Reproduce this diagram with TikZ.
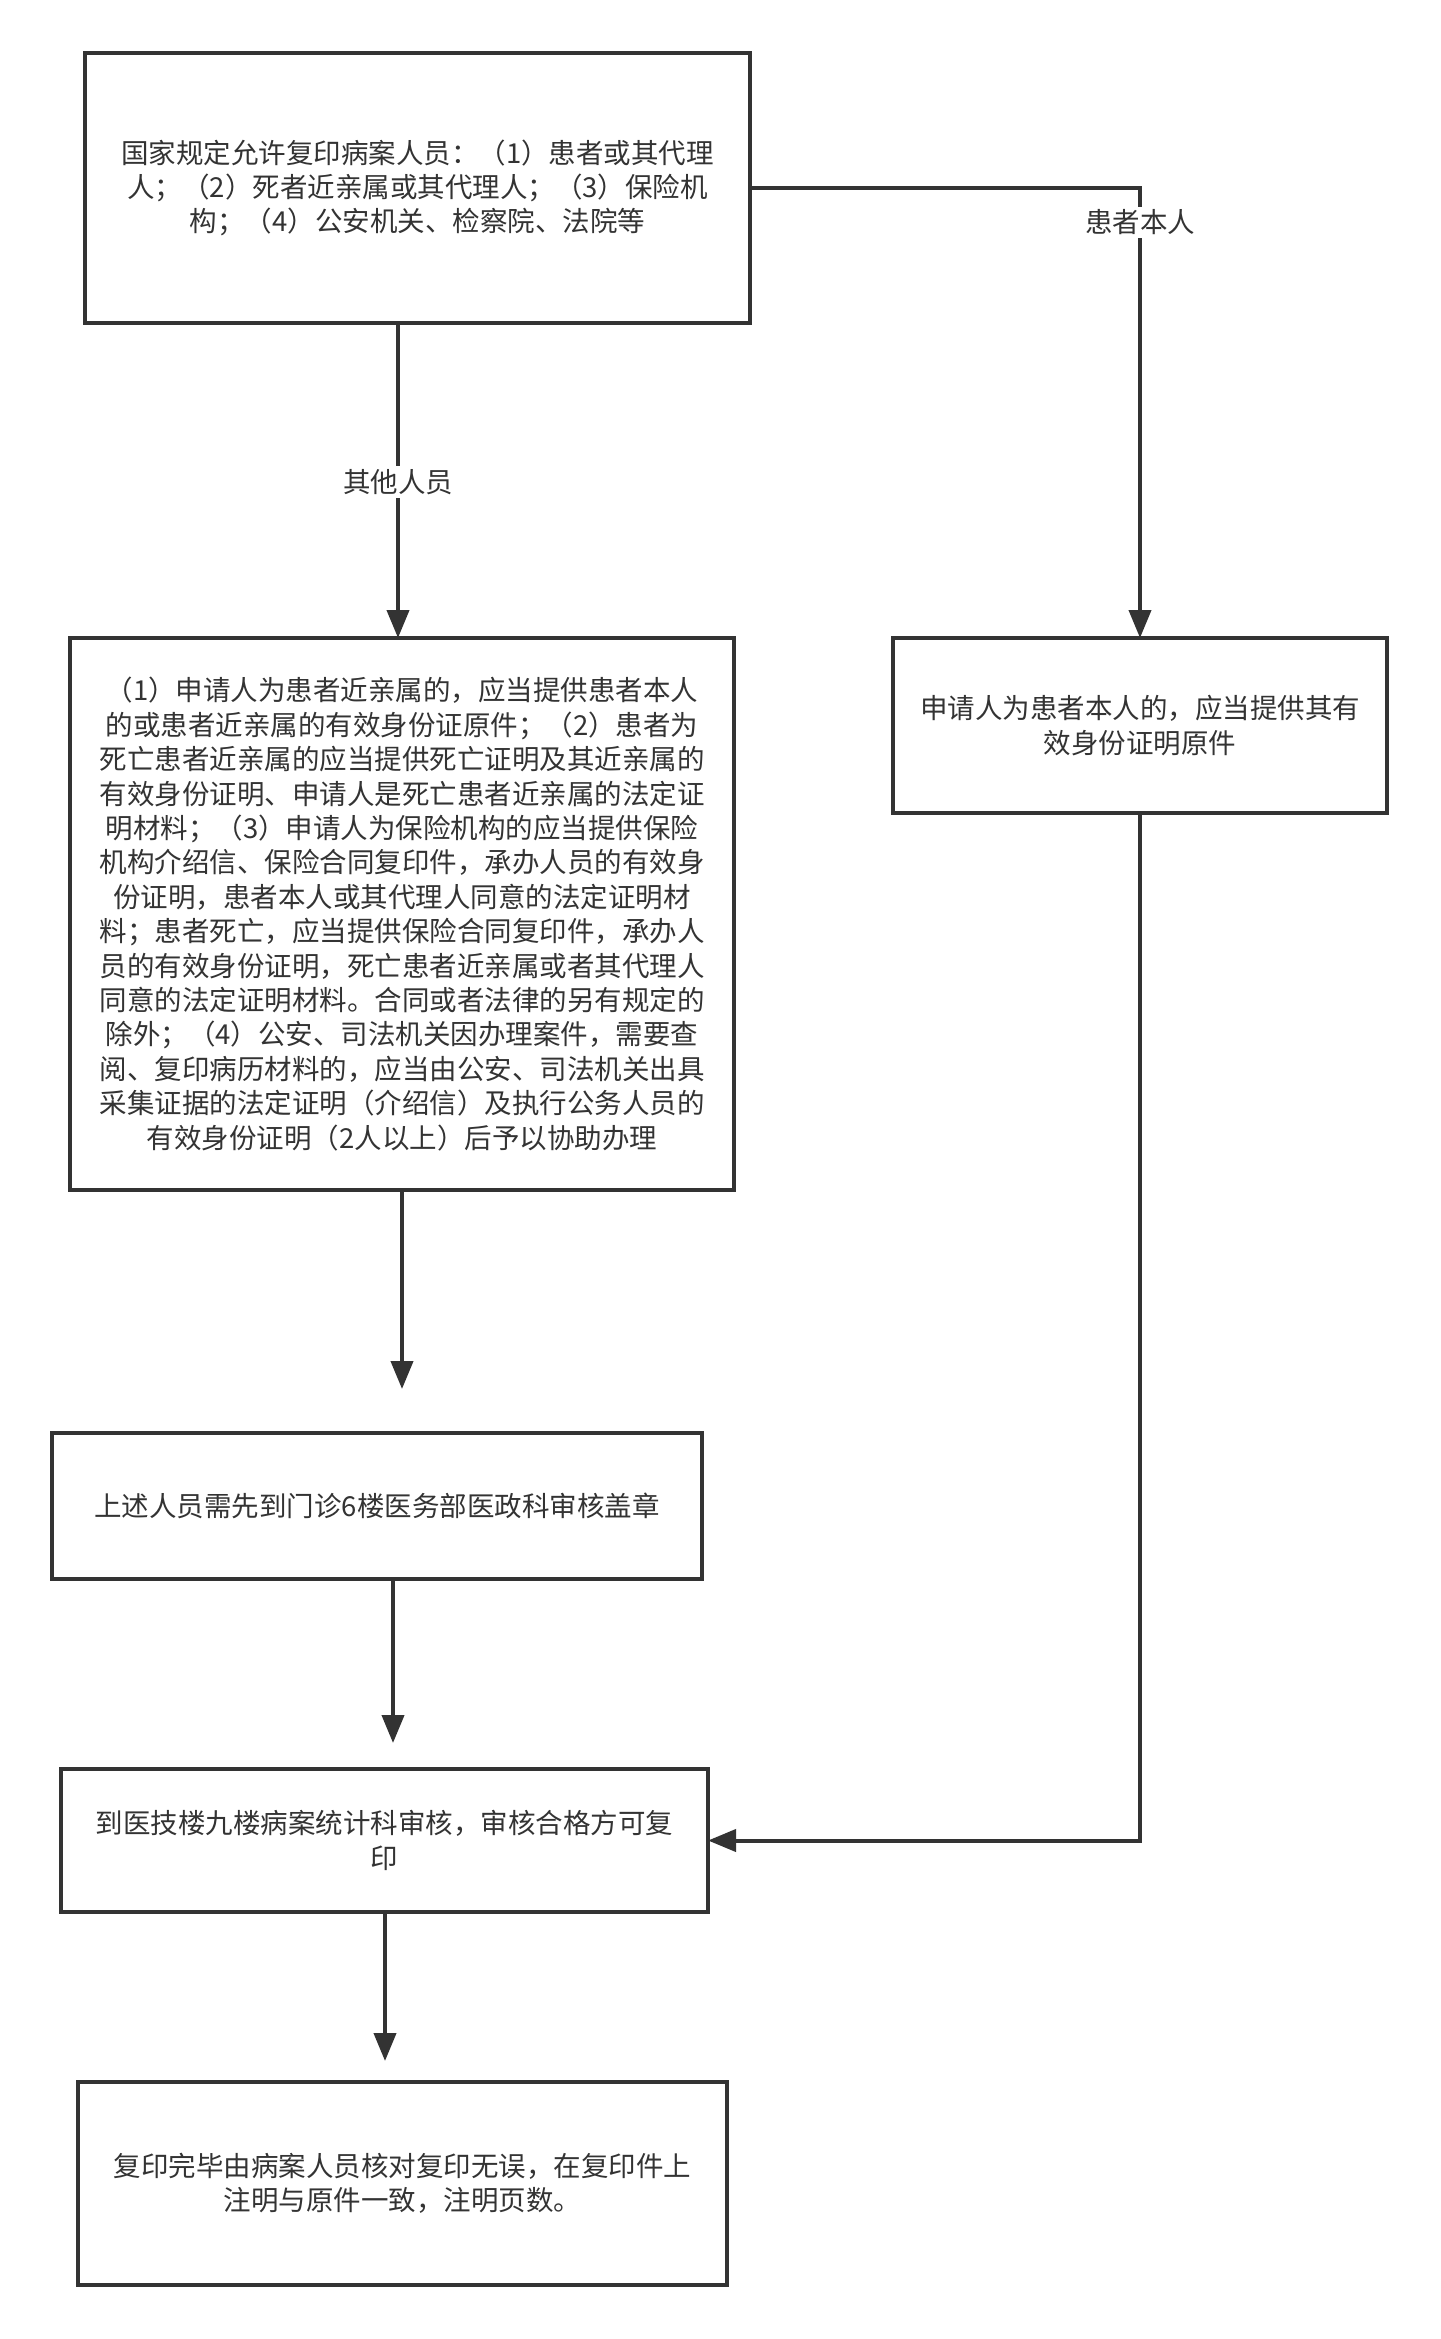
\documentclass[tikz,border=0pt]{standalone}
\usepackage{fontspec}
\setmainfont{Noto Sans CJK SC}
\usetikzlibrary{arrows.meta}
\definecolor{ln}{HTML}{333333}
\definecolor{txt}{HTML}{333333}
\begin{document}
\begin{tikzpicture}[x=0.5pt,y=-0.5pt,
  box/.style={draw=ln,line width=2pt,fill=white,inner sep=0pt,outer sep=0pt,align=center,text=txt,font=\fontsize{13.75pt}{17.2pt}\selectfont},
  arr/.style={draw=ln,line width=2pt,-{Triangle[width=11pt,length=14pt]}},
  lbl/.style={fill=white,text=txt,inner sep=1.5pt,font=\fontsize{13.75pt}{17.2pt}\selectfont}]
\useasboundingbox[fill=white] (0,0) rectangle (1440,2339);

\node[box,minimum width=332.5pt,minimum height=135pt] (b1) at (417.5,188)
  {国家规定允许复印病案人员：（1）患者或其代理\\人；（2）死者近亲属或其代理人；（3）保险机\\构；（4）公安机关、检察院、法院等};

\node[box,minimum width=332pt,minimum height=276pt] (b2) at (402,914)
  {（1）申请人为患者近亲属的，应当提供患者本人\\
   的或患者近亲属的有效身份证原件；（2）患者为\\
   死亡患者近亲属的应当提供死亡证明及其近亲属的\\
   有效身份证明、申请人是死亡患者近亲属的法定证\\
   明材料；（3）申请人为保险机构的应当提供保险\\
   机构介绍信、保险合同复印件，承办人员的有效身\\
   份证明，患者本人或其代理人同意的法定证明材\\
   料；患者死亡，应当提供保险合同复印件，承办人\\
   员的有效身份证明，死亡患者近亲属或者其代理人\\
   同意的法定证明材料。合同或者法律的另有规定的\\
   除外；（4）公安、司法机关因办理案件，需要查\\
   阅、复印病历材料的，应当由公安、司法机关出具\\
   采集证据的法定证明（介绍信）及执行公务人员的\\
   有效身份证明（2人以上）后予以协助办理};

\node[box,minimum width=247pt,minimum height=87.5pt] (b3) at (1140,725.5)
  {申请人为患者本人的，应当提供其有\\效身份证明原件};

\node[box,minimum width=325pt,minimum height=73pt] (b4) at (377,1506)
  {上述人员需先到门诊6楼医务部医政科审核盖章};

\node[box,minimum width=323.5pt,minimum height=71.5pt] (b5) at (384.5,1840.5)
  {到医技楼九楼病案统计科审核，审核合格方可复\\印};

\node[box,minimum width=324.5pt,minimum height=101.5pt] (b6) at (402.5,2183.5)
  {复印完毕由病案人员核对复印无误，在复印件上\\注明与原件一致，注明页数。};

\coordinate (x1) at (398,0);
\coordinate (e3) at (402,1389);
\coordinate (e4) at (393,1743);
\coordinate (e5) at (385,2061);

\draw[arr] (b1.south -| x1) -- node[lbl,pos=0.505] {其他人员} (b2.north -| x1);
\draw[arr] (b1.east) -| node[lbl,pos=0.538] {患者本人} (b3.north);
\draw[arr] (b2.south) -- (e3);
\draw[arr] (e4 |- b4.south) -- (e4);
\draw[arr] (e5 |- b5.south) -- (e5);
\draw[arr] (b3.south) |- (b5.east);
\end{tikzpicture}
\end{document}
